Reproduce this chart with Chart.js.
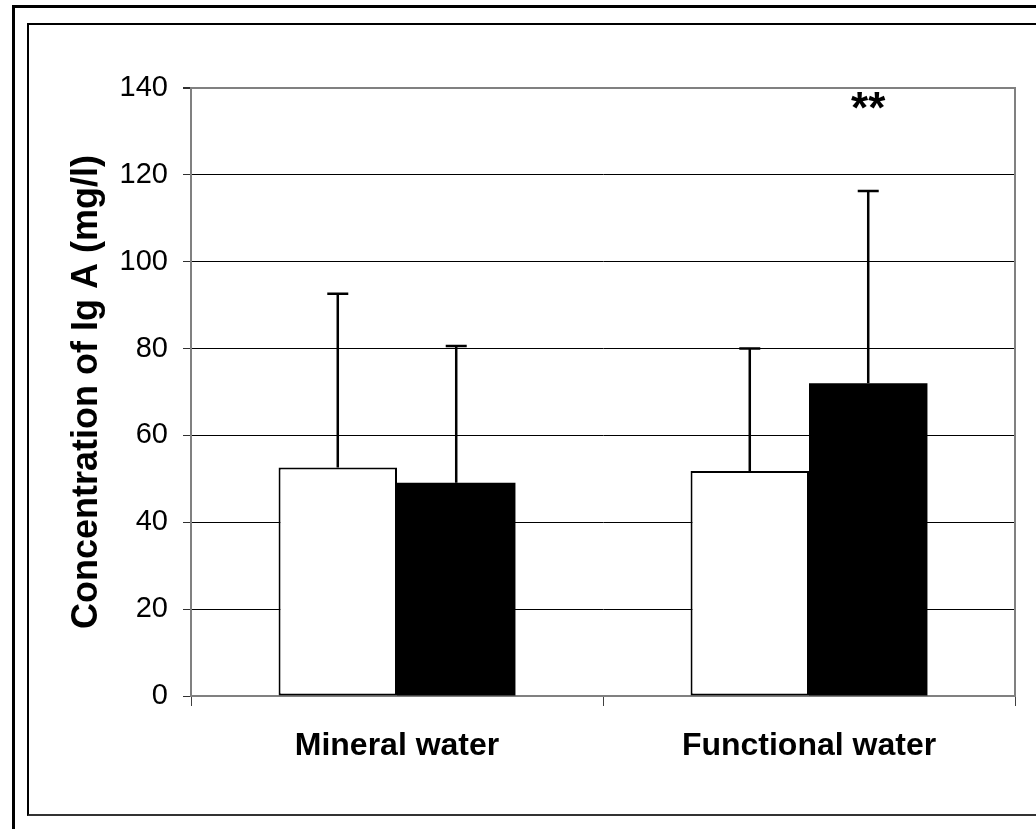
<!DOCTYPE html>
<html>
<head>
<meta charset="utf-8">
<script src="https://cdn.jsdelivr.net/npm/chart.js@4"></script>
<style>
  html, body { margin: 0; padding: 0; background: #fff; width: 1036px; height: 829px; overflow: hidden; }
  #outer { position: absolute; left: 12px; top: 5px; width: 1100px; height: 900px; border: 3px solid #000; box-sizing: border-box; }
  #inner { position: absolute; left: 27px; top: 23px; width: 1100px; height: 793px; border: 2px solid #333; border-top-color: #000; border-left-color: #000; box-sizing: border-box; }
  #c { position: absolute; left: 0; top: 0; }
</style>
</head>
<body>
<div id="outer"></div>
<div id="inner"></div>
<canvas id="c" width="1036" height="829"></canvas>
<script>
// ---- data ----
const categories = ['Mineral water', 'Functional water'];
const seriesA = [52.6, 51.8];      // white bars
const seriesB = [49.1, 72.0];      // black bars
const sdA = [40.0, 28.2];
const sdB = [31.5, 44.3];
const markB = ['', '**'];
const yTicks = [0, 20, 40, 60, 80, 100, 120, 140];
const yTitle = 'Concentration of Ig A (mg/l)';

const errorBars = {
  id: 'errorBars',
  afterDatasetsDraw(chart) {
    const ctx = chart.ctx;
    const y = chart.scales.y;
    const sds = [sdA, sdB];
    ctx.save();
    ctx.strokeStyle = '#000';
    ctx.lineWidth = 2.5;
    chart.data.datasets.forEach((ds, di) => {
      const meta = chart.getDatasetMeta(di);
      meta.data.forEach((bar, i) => {
        const x = bar.x;
        const yTop = y.getPixelForValue(ds.data[i] + sds[di][i]);
        const yBase = y.getPixelForValue(ds.data[i]);
        ctx.beginPath();
        ctx.moveTo(x, yBase);
        ctx.lineTo(x, yTop);
        ctx.moveTo(x - 10.5, yTop);
        ctx.lineTo(x + 10.5, yTop);
        ctx.stroke();
      });
    });
    // significance marks
    const metaB = chart.getDatasetMeta(1);
    ctx.fillStyle = '#000';
    ctx.font = 'bold 44px "Liberation Sans", Arial, sans-serif';
    ctx.textAlign = 'center';
    ctx.textBaseline = 'alphabetic';
    metaB.data.forEach((bar, i) => {
      if (markB[i]) ctx.fillText(markB[i], bar.x, y.getPixelForValue(132));
    });
    ctx.restore();
  }
};

new Chart(document.getElementById('c'), {
  type: 'bar',
  data: {
    labels: categories,
    datasets: [
      { data: seriesA, backgroundColor: '#fff', borderColor: '#000', borderWidth: 2, borderSkipped: false,
        categoryPercentage: 0.575, barPercentage: 1.0 },
      { data: seriesB, backgroundColor: '#000', borderColor: '#000', borderWidth: 0,
        categoryPercentage: 0.575, barPercentage: 1.0 }
    ]
  },
  options: {
    responsive: false,
    devicePixelRatio: 1,
    animation: false,
    layout: { padding: { left: 0, top: 88, right: 21, bottom: 0 } },
    plugins: { legend: { display: false }, tooltip: { enabled: false } },
    scales: {
      x: {
        grid: { display: true, drawOnChartArea: false, drawTicks: true, tickLength: 10, tickColor: '#404040', offset: true },
        border: { display: true, color: '#808080', width: 2 },
        ticks: { color: '#000', padding: 21, font: { family: '"Liberation Sans", Arial, sans-serif', size: 32, weight: 'bold' } },
        afterFit(s) { s.height = 133; }
      },
      y: {
        min: 0, max: 140,
        afterBuildTicks(s) { s.ticks = yTicks.map(v => ({ value: v })); },
        grid: {
          color: c => (c.tick && c.tick.value === 140) ? '#808080' : '#000',
          lineWidth: c => (c.tick && c.tick.value === 140) ? 2 : 1,
          tickLength: 8, tickColor: '#303030', drawTicks: true
        },
        border: { display: true, color: '#808080', width: 2 },
        ticks: { color: '#000', padding: 15, font: { family: '"Liberation Sans", Arial, sans-serif', size: 29 } },
        title: { display: true, text: yTitle, color: '#000', padding: { top: 65, bottom: 0 },
                 font: { family: '"Liberation Sans", Arial, sans-serif', size: 36, weight: 'bold' } },
        afterFit(s) { s.width = 191; }
      },
      y2: {
        position: 'right', min: 0, max: 140,
        grid: { display: false, drawTicks: false },
        ticks: { display: false },
        border: { display: true, color: '#808080', width: 2 },
        afterFit(s) { s.width = 0; }
      }
    }
  },
  plugins: [errorBars]
});
</script>
</body>
</html>
